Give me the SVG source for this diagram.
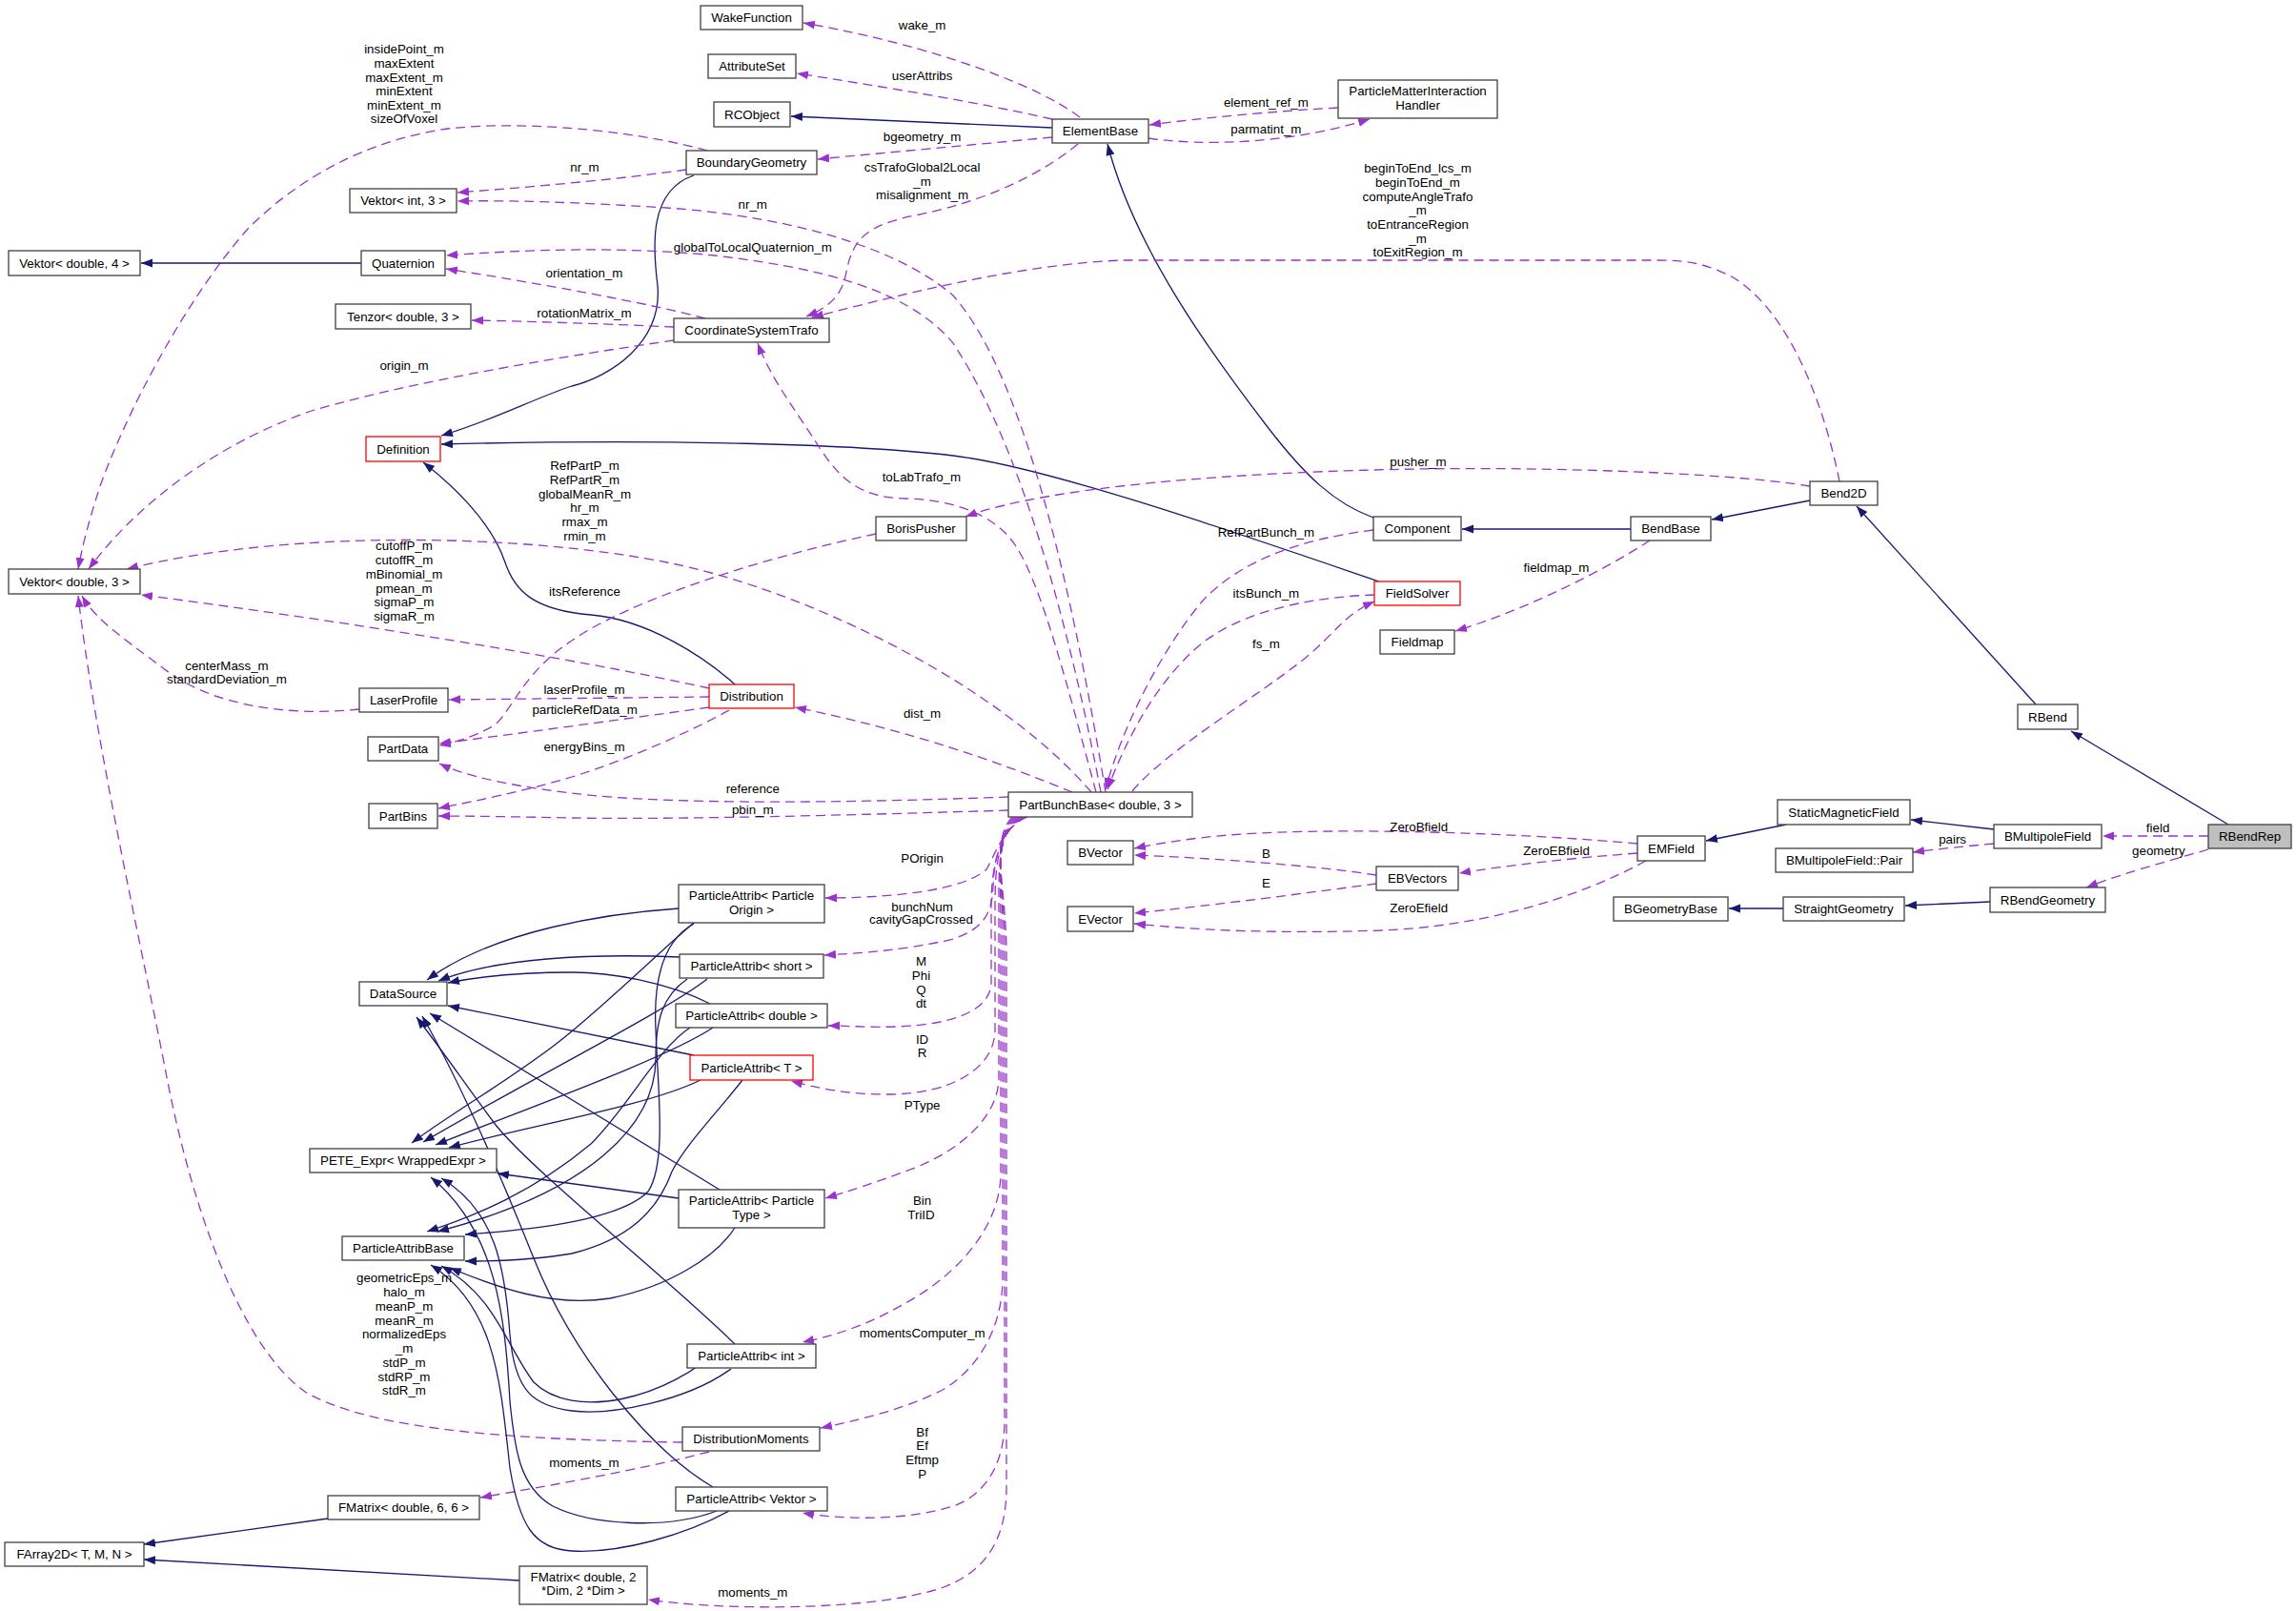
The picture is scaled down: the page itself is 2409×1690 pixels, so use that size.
<svg xmlns="http://www.w3.org/2000/svg" width="2409" height="1690" viewBox="0 0 2409 1690">
<style>
.n rect{fill:#fff;stroke:#404040;stroke-width:1.3}
.r rect{stroke:#ff0000}
.g rect{fill:#bfbfbf}
text{font-family:"Liberation Sans",Arial,Helvetica,sans-serif;font-size:13.33px;fill:#000;text-anchor:middle}
.i{fill:none;stroke:#191970;stroke-width:1.3;marker-end:url(#ab)}
.u{fill:none;stroke:#9a32cd;stroke-width:1.3;stroke-dasharray:10,6;marker-end:url(#ap)}
</style>
<defs>
<marker id="ab" markerUnits="userSpaceOnUse" markerWidth="13" markerHeight="10" refX="12" refY="5" orient="auto"><path d="M0,0.5 L12,5 L0,9.5 z" fill="#191970"/></marker>
<marker id="ap" markerUnits="userSpaceOnUse" markerWidth="13" markerHeight="10" refX="12" refY="5" orient="auto"><path d="M0,0.5 L12,5 L0,9.5 z" fill="#9a32cd"/></marker>
</defs>
<rect width="2409" height="1690" fill="#fff"/>
<g id="connectors">
<path class="u" d="M1133,123 C1090,90 980,48 843,24"/>
<path class="u" d="M1104,125 C1020,106 920,90 836,77"/>
<path class="i" d="M1104,134 L830,122"/>
<path class="u" d="M1104,144 C1020,152 930,160 858,167"/>
<path class="u" d="M1205,145 C1260,153 1350,152 1437,125"/>
<path class="u" d="M1404,113 C1330,117 1260,124 1206,131"/>
<path class="u" d="M1131,151 C1090,185 1030,212 960,226 C910,236 895,250 888,285 C884,310 870,322 846,332"/>
<path class="u" d="M720,178 C650,188 560,196 480,202"/>
<path class="u" d="M742,158 C680,140 560,125 470,135 C380,148 310,190 260,240 C190,320 130,440 105,510 C92,550 86,575 82,597"/>
<path class="i" d="M728,184 C680,200 685,260 690,300 C695,360 640,395 600,405 C560,418 520,440 463,457"/>
<path class="u" d="M740,334 C680,318 570,298 468,282"/>
<path class="u" d="M707,343 C640,340 560,337 495,336"/>
<path class="u" d="M707,357 C610,371 440,398 330,430 C240,460 150,520 93,597"/>
<path class="i" d="M1447,610 C1300,560 1100,490 1000,478 C900,466 700,460 463,466"/>
<path class="i" d="M771,718 C740,690 680,650 620,645 C560,640 540,620 530,590 C515,545 470,505 444,485"/>
<path class="i" d="M1441,543 C1400,528 1370,500 1330,448 C1270,370 1190,260 1162,151"/>
<path class="u" d="M1930,505 C1915,430 1880,330 1820,292 C1790,276 1770,273 1740,273 L1180,273 C1080,276 960,305 852,333"/>
<path class="u" d="M1899,510 C1800,494 1600,490 1488,492 C1300,495 1100,510 1013,542"/>
<path class="i" d="M1899,525 L1796,545"/>
<path class="i" d="M1711,555 L1534,555"/>
<path class="u" d="M1731,567 C1680,600 1600,640 1527,662"/>
<path class="i" d="M2136,739 L1948,531"/>
<path class="i" d="M2338,865 L2173,767"/>
<path class="u" d="M2317,877 L2206,877"/>
<path class="u" d="M2317,891 C2280,902 2230,915 2189,931"/>
<path class="i" d="M2092,870 L2005,860"/>
<path class="u" d="M2092,885 C2060,888 2030,891 2007,894"/>
<path class="i" d="M1874,865 L1790,882"/>
<path class="i" d="M2088,946 L1999,950"/>
<path class="i" d="M1871,953 L1814,953"/>
<path class="u" d="M1718,885 C1620,876 1450,868 1320,874 C1260,877 1220,884 1190,890"/>
<path class="u" d="M1718,895 C1650,900 1580,908 1531,916"/>
<path class="u" d="M1727,903 C1650,945 1550,972 1450,976 C1330,980 1250,975 1190,969"/>
<path class="u" d="M1444,918 C1380,908 1270,900 1190,897"/>
<path class="u" d="M1444,927 C1370,937 1270,950 1190,958"/>
<path class="u" d="M1442,624 C1380,626 1300,640 1255,680 C1210,720 1180,780 1162,828"/>
<path class="u" d="M1188,830 C1220,790 1320,730 1370,690 C1400,665 1410,645 1442,631"/>
<path class="u" d="M1441,556 C1360,566 1300,590 1262,630 C1220,680 1178,760 1160,828"/>
<path class="u" d="M1125,831 C1050,800 950,765 834,742"/>
<path class="u" d="M1150,831 C1120,720 1090,600 1060,565 C1040,540 1000,524 950,523 C900,522 880,500 860,470 C835,430 810,400 795,360"/>
<path class="u" d="M1155,831 C1130,700 1080,480 1000,360 C950,300 850,280 750,268 C650,258 550,262 468,268"/>
<path class="u" d="M1160,831 C1130,650 1080,400 1000,310 C930,250 800,225 700,218 C600,212 540,210 480,211"/>
<path class="u" d="M1145,831 C1050,720 850,620 700,590 C550,560 300,555 133,597"/>
<path class="u" d="M744,722 C600,690 350,650 148,624"/>
<path class="u" d="M377,744 C300,752 220,740 170,700 C130,670 100,650 86,625"/>
<path class="u" d="M744,731 L471,734"/>
<path class="u" d="M744,742 C650,755 540,770 461,780"/>
<path class="u" d="M765,745 C720,770 650,800 600,815 C550,830 500,840 460,848"/>
<path class="u" d="M919,560 C800,585 660,630 600,672 C550,705 540,740 520,760 C500,772 480,778 461,782"/>
<path class="u" d="M1058,836 C900,842 700,845 600,832 C540,825 490,815 461,801"/>
<path class="u" d="M1058,850 C900,855 700,860 600,858 C550,857 500,856 460,856"/>
<path class="u" d="M716,1513 C500,1510 380,1495 320,1460 C250,1410 200,1260 175,1130 C150,1000 100,780 82,625"/>
<path class="u" d="M744,1523 C680,1540 580,1558 504,1571"/>
<path class="u" d="M1078,857 C1052,868 1045,895 1035,912 C1010,935 930,942 866,942"/>
<path class="u" d="M1076,857 C1050,870 1043,900 1042,930 C1041,960 1030,975 1000,985 C950,997 900,1000 865,1002"/>
<path class="u" d="M1074,857 C1050,872 1040,905 1040,950 L1040,1030 C1040,1060 1000,1075 940,1077 C910,1078 890,1076 869,1076"/>
<path class="u" d="M1072,857 C1048,874 1044,905 1044,950 L1044,1080 C1044,1120 1000,1148 930,1148 C890,1148 860,1142 830,1134"/>
<path class="u" d="M1070,857 C1046,876 1048,910 1048,960 L1048,1130 C1048,1170 1010,1205 960,1225 C920,1240 890,1250 866,1257"/>
<path class="u" d="M1068,857 C1044,878 1050,915 1050,970 L1050,1230 C1050,1290 1000,1340 950,1367 C910,1390 880,1400 842,1408"/>
<path class="u" d="M1066,857 C1042,880 1052,920 1052,980 L1052,1340 C1052,1400 1020,1440 989,1458 C950,1478 900,1490 861,1498"/>
<path class="u" d="M1064,857 C1040,882 1054,925 1054,990 L1054,1490 C1054,1540 1030,1570 1000,1580 C950,1596 880,1594 842,1587"/>
<path class="u" d="M1062,857 C1038,884 1056,930 1056,1000 L1056,1560 C1056,1620 1030,1650 990,1665 C920,1690 760,1690 680,1678"/>
<path class="i" d="M379,276 L148,276"/>
<path class="i" d="M344,1593 L151,1620"/>
<path class="i" d="M545,1658 L151,1636"/>
<path class="i" d="M712,953 C640,958 520,975 448,1028"/>
<path class="i" d="M713,1004 C620,1000 520,1005 460,1029"/>
<path class="i" d="M745,1053 C700,1030 640,1020 600,1020 C540,1020 500,1025 470,1031"/>
<path class="i" d="M728,1107 L470,1055"/>
<path class="i" d="M755,1248 L451,1063"/>
<path class="i" d="M771,1410 C700,1340 560,1230 520,1180 C490,1140 470,1110 437,1067"/>
<path class="i" d="M748,1560 C680,1520 600,1420 560,1320 C520,1220 480,1130 443,1066"/>
<path class="i" d="M728,968 C690,1000 640,1050 590,1090 C540,1130 470,1170 432,1199"/>
<path class="i" d="M742,1027 C700,1060 560,1130 444,1198"/>
<path class="i" d="M748,1078 C700,1110 560,1160 457,1201"/>
<path class="i" d="M712,1257 L522,1231"/>
<path class="i" d="M735,1133 C680,1160 560,1180 471,1204"/>
<path class="i" d="M767,1436 C720,1470 640,1485 600,1480 C560,1475 540,1460 535,1400 C530,1330 520,1270 463,1236"/>
<path class="i" d="M752,1585 C700,1605 620,1600 580,1580 C545,1560 540,1520 535,1470 C530,1380 520,1290 452,1235"/>
<path class="i" d="M728,969 C690,990 686,1040 688,1080 C690,1140 700,1220 680,1250 C650,1280 560,1290 488,1295"/>
<path class="i" d="M721,1027 C695,1045 688,1070 688,1110 C688,1180 620,1250 459,1292"/>
<path class="i" d="M724,1078 C690,1100 660,1160 620,1200 C560,1250 500,1275 448,1292"/>
<path class="i" d="M779,1133 C750,1170 720,1200 705,1229 C690,1270 660,1300 600,1315 C560,1322 520,1323 488,1323"/>
<path class="i" d="M771,1288 C750,1320 700,1350 640,1362 C580,1372 520,1350 472,1330"/>
<path class="i" d="M760,1410 C700,1470 600,1490 560,1450 C530,1410 520,1360 463,1328"/>
<path class="i" d="M765,1585 C720,1610 650,1630 600,1627 C560,1625 545,1600 535,1540 C525,1450 520,1370 452,1327"/>
<g id="edge-labels">
<text x="967.6" y="31.2">wake_m</text>
<text x="967.6" y="83.9">userAttribs</text>
<text x="967.6" y="148.3">bgeometry_m</text>
<text x="1328.4" y="112.3">element_ref_m</text>
<text x="1328.4" y="140.3">parmatint_m</text>
<text x="424" y="56.3">insidePoint_m</text>
<text x="424" y="70.9">maxExtent</text>
<text x="424" y="85.5">maxExtent_m</text>
<text x="424" y="100.1">minExtent</text>
<text x="424" y="114.7">minExtent_m</text>
<text x="424" y="129.3">sizeOfVoxel</text>
<text x="613.5" y="180.3">nr_m</text>
<text x="967.6" y="180.3">csTrafoGlobal2Local</text>
<text x="967.6" y="195.2">_m</text>
<text x="967.6" y="209.4">misalignment_m</text>
<text x="1487.5" y="181.4">beginToEnd_lcs_m</text>
<text x="1487.5" y="196.3">beginToEnd_m</text>
<text x="1487.5" y="211.2">computeAngleTrafo</text>
<text x="1487.5" y="225.4">_m</text>
<text x="1487.5" y="240.3">toEntranceRegion</text>
<text x="1487.5" y="255.2">_m</text>
<text x="1487.5" y="269.3">toExitRegion_m</text>
<text x="789.8" y="219.2">nr_m</text>
<text x="789.8" y="264.3">globalToLocalQuaternion_m</text>
<text x="613" y="291.2">orientation_m</text>
<text x="613" y="333.3">rotationMatrix_m</text>
<text x="424" y="387.5">origin_m</text>
<text x="613.5" y="492.9">RefPartP_m</text>
<text x="613.5" y="507.7">RefPartR_m</text>
<text x="613.5" y="522.5">globalMeanR_m</text>
<text x="613.5" y="537.3">hr_m</text>
<text x="613.5" y="552.1">rmax_m</text>
<text x="613.5" y="566.9">rmin_m</text>
<text x="966.9" y="505.3">toLabTrafo_m</text>
<text x="1487.9" y="489.3">pusher_m</text>
<text x="1328.4" y="562.7">RefPartBunch_m</text>
<text x="424" y="577.4">cutoffP_m</text>
<text x="424" y="592.1">cutoffR_m</text>
<text x="424" y="606.8">mBinomial_m</text>
<text x="424" y="621.5">pmean_m</text>
<text x="424" y="636.2">sigmaP_m</text>
<text x="424" y="650.9">sigmaR_m</text>
<text x="613.4" y="625.4">itsReference</text>
<text x="1633" y="600.3">fieldmap_m</text>
<text x="1328.4" y="627.2">itsBunch_m</text>
<text x="1328.4" y="680.3">fs_m</text>
<text x="238" y="703.2">centerMass_m</text>
<text x="238" y="717.4">standardDeviation_m</text>
<text x="613" y="728.3">laserProfile_m</text>
<text x="613.6" y="749.4">particleRefData_m</text>
<text x="967.6" y="753.4">dist_m</text>
<text x="613" y="788.3">energyBins_m</text>
<text x="789.8" y="832.2">reference</text>
<text x="789.8" y="853.7">pbin_m</text>
<text x="2264.1" y="873">field</text>
<text x="1488.7" y="872.2">ZeroBfield</text>
<text x="2048.6" y="884.6">pairs</text>
<text x="2264.9" y="896.6">geometry</text>
<text x="1633" y="896.6">ZeroEBfield</text>
<text x="1328.4" y="899.9">B</text>
<text x="967.6" y="905.3">POrigin</text>
<text x="1328.4" y="930.7">E</text>
<text x="967.6" y="955.5">bunchNum</text>
<text x="966.5" y="968.9">cavityGapCrossed</text>
<text x="1488.7" y="957.3">ZeroEfield</text>
<text x="966.5" y="1013.3">M</text>
<text x="966.5" y="1028.2">Phi</text>
<text x="966.5" y="1043.1">Q</text>
<text x="966.5" y="1057.3">dt</text>
<text x="967.6" y="1095.1">ID</text>
<text x="967.6" y="1108.9">R</text>
<text x="967.6" y="1164.3">PType</text>
<text x="967.6" y="1264.3">Bin</text>
<text x="966.5" y="1279.2">TriID</text>
<text x="424" y="1345.4">geometricEps_m</text>
<text x="424" y="1360.2">halo_m</text>
<text x="424" y="1374.9">meanP_m</text>
<text x="424" y="1389.7">meanR_m</text>
<text x="424" y="1404.4">normalizedEps</text>
<text x="424" y="1419.2">_m</text>
<text x="424" y="1433.9">stdP_m</text>
<text x="424" y="1448.7">stdRP_m</text>
<text x="424" y="1463.4">stdR_m</text>
<text x="967.6" y="1403.2">momentsComputer_m</text>
<text x="967.6" y="1507.1">Bf</text>
<text x="967.6" y="1520.9">Ef</text>
<text x="967.6" y="1536.2">Eftmp</text>
<text x="967.6" y="1550.7">P</text>
<text x="613" y="1539.1">moments_m</text>
<text x="789.8" y="1675.4">moments_m</text>
</g>
</g>
<g id="nodes">
<g id="WakeFunction" class="n"><rect x="735" y="6" width="107" height="25"/><text x="788.5" y="23.2">WakeFunction</text></g>
<g id="AttributeSet" class="n"><rect x="743" y="57" width="92" height="25"/><text x="789" y="74.2">AttributeSet</text></g>
<g id="RCObject" class="n"><rect x="749" y="107" width="80" height="26"/><text x="789" y="124.7">RCObject</text></g>
<g id="ElementBase" class="n"><rect x="1104" y="125" width="101" height="25"/><text x="1154.5" y="142.2">ElementBase</text></g>
<g id="ParticleMatterInteractionHandler" class="n"><rect x="1404" y="84" width="167" height="40"/><text x="1487.5" y="100.3">ParticleMatterInteraction</text><text x="1487.5" y="114.8">Handler</text></g>
<g id="BoundaryGeometry" class="n"><rect x="720" y="158" width="137" height="25"/><text x="788.5" y="175.2">BoundaryGeometry</text></g>
<g id="VektorInt3" class="n"><rect x="367" y="198" width="112" height="25"/><text x="423" y="215.2">Vektor&lt; int, 3 &gt;</text></g>
<g id="VektorDouble4" class="n"><rect x="9" y="263" width="138" height="26"/><text x="78" y="280.7">Vektor&lt; double, 4 &gt;</text></g>
<g id="Quaternion" class="n"><rect x="379" y="263" width="88" height="26"/><text x="423" y="280.7">Quaternion</text></g>
<g id="TenzorDouble3" class="n"><rect x="352" y="319" width="142" height="26"/><text x="423" y="336.7">Tenzor&lt; double, 3 &gt;</text></g>
<g id="CoordinateSystemTrafo" class="n"><rect x="707" y="334" width="163" height="25"/><text x="788.5" y="351.2">CoordinateSystemTrafo</text></g>
<g id="Definition" class="n r"><rect x="384" y="458" width="78" height="26"/><text x="423" y="475.7">Definition</text></g>
<g id="BorisPusher" class="n"><rect x="919" y="542" width="95" height="25"/><text x="966.5" y="559.2">BorisPusher</text></g>
<g id="Component" class="n"><rect x="1441" y="542" width="92" height="25"/><text x="1487" y="559.2">Component</text></g>
<g id="BendBase" class="n"><rect x="1711" y="542" width="84" height="25"/><text x="1753" y="559.2">BendBase</text></g>
<g id="Bend2D" class="n"><rect x="1899" y="505" width="71" height="25"/><text x="1934.5" y="522.2">Bend2D</text></g>
<g id="VektorDouble3" class="n"><rect x="9" y="597" width="138" height="26"/><text x="78" y="614.7">Vektor&lt; double, 3 &gt;</text></g>
<g id="FieldSolver" class="n r"><rect x="1442" y="610" width="90" height="25"/><text x="1487" y="627.2">FieldSolver</text></g>
<g id="Fieldmap" class="n"><rect x="1448" y="661" width="78" height="25"/><text x="1487" y="678.2">Fieldmap</text></g>
<g id="Distribution" class="n r"><rect x="744" y="718" width="89" height="25"/><text x="788.5" y="735.2">Distribution</text></g>
<g id="LaserProfile" class="n"><rect x="377" y="722" width="93" height="25"/><text x="423.5" y="739.2">LaserProfile</text></g>
<g id="PartData" class="n"><rect x="386" y="773" width="74" height="25"/><text x="423" y="790.2">PartData</text></g>
<g id="RBend" class="n"><rect x="2117" y="739" width="63" height="26"/><text x="2148.5" y="756.7">RBend</text></g>
<g id="PartBunchBase" class="n"><rect x="1058" y="831" width="193" height="26"/><text x="1154.5" y="848.7">PartBunchBase&lt; double, 3 &gt;</text></g>
<g id="PartBins" class="n"><rect x="387" y="843" width="72" height="26"/><text x="423" y="860.7">PartBins</text></g>
<g id="StaticMagneticField" class="n"><rect x="1865" y="839" width="139" height="26"/><text x="1934.5" y="856.7">StaticMagneticField</text></g>
<g id="BMultipoleField" class="n"><rect x="2092" y="865" width="113" height="25"/><text x="2148.5" y="882.2">BMultipoleField</text></g>
<g id="RBendRep" class="n g"><rect x="2317" y="865" width="87" height="25"/><text x="2360.5" y="882.2">RBendRep</text></g>
<g id="EMField" class="n"><rect x="1718" y="877" width="71" height="26"/><text x="1753.5" y="894.7">EMField</text></g>
<g id="BVector" class="n"><rect x="1120" y="882" width="69" height="25"/><text x="1154.5" y="899.2">BVector</text></g>
<g id="BMultipoleFieldPair" class="n"><rect x="1863" y="890" width="144" height="25"/><text x="1935" y="907.2">BMultipoleField::Pair</text></g>
<g id="EBVectors" class="n"><rect x="1444" y="909" width="86" height="25"/><text x="1487" y="926.2">EBVectors</text></g>
<g id="RBendGeometry" class="n"><rect x="2088" y="931" width="121" height="26"/><text x="2148.5" y="948.7">RBendGeometry</text></g>
<g id="BGeometryBase" class="n"><rect x="1693" y="941" width="120" height="25"/><text x="1753" y="958.2">BGeometryBase</text></g>
<g id="StraightGeometry" class="n"><rect x="1871" y="941" width="127" height="25"/><text x="1934.5" y="958.2">StraightGeometry</text></g>
<g id="EVector" class="n"><rect x="1120" y="951" width="69" height="26"/><text x="1154.5" y="968.7">EVector</text></g>
<g id="PA_ParticleOrigin" class="n"><rect x="712" y="928" width="153" height="40"/><text x="788.5" y="943.8">ParticleAttrib&lt; Particle</text><text x="788.5" y="959">Origin &gt;</text></g>
<g id="PA_short" class="n"><rect x="713" y="1001" width="151" height="25"/><text x="788.5" y="1018.2">ParticleAttrib&lt; short &gt;</text></g>
<g id="DataSource" class="n"><rect x="377" y="1030" width="92" height="25"/><text x="423" y="1047.2">DataSource</text></g>
<g id="PA_double" class="n"><rect x="709" y="1053" width="159" height="25"/><text x="788.5" y="1070.2">ParticleAttrib&lt; double &gt;</text></g>
<g id="PA_T" class="n r"><rect x="724" y="1107" width="129" height="26"/><text x="788.5" y="1124.7">ParticleAttrib&lt; T &gt;</text></g>
<g id="PETE_Expr" class="n"><rect x="325" y="1205" width="196" height="25"/><text x="423" y="1222.2">PETE_Expr&lt; WrappedExpr &gt;</text></g>
<g id="PA_ParticleType" class="n"><rect x="712" y="1248" width="153" height="40"/><text x="788.5" y="1264.3">ParticleAttrib&lt; Particle</text><text x="788.5" y="1279.2">Type &gt;</text></g>
<g id="ParticleAttribBase" class="n"><rect x="359" y="1297" width="128" height="25"/><text x="423" y="1314.2">ParticleAttribBase</text></g>
<g id="PA_int" class="n"><rect x="721" y="1410" width="135" height="25"/><text x="788.5" y="1427.2">ParticleAttrib&lt; int &gt;</text></g>
<g id="DistributionMoments" class="n"><rect x="716" y="1497" width="144" height="25"/><text x="788" y="1514.2">DistributionMoments</text></g>
<g id="PA_Vektor" class="n"><rect x="709" y="1560" width="159" height="25"/><text x="788.5" y="1577.2">ParticleAttrib&lt; Vektor &gt;</text></g>
<g id="FMatrix66" class="n"><rect x="344" y="1569" width="159" height="25"/><text x="423.5" y="1586.2">FMatrix&lt; double, 6, 6 &gt;</text></g>
<g id="FArray2D" class="n"><rect x="5" y="1618" width="146" height="25"/><text x="78" y="1635.2">FArray2D&lt; T, M, N &gt;</text></g>
<g id="FMatrix2Dim" class="n"><rect x="545" y="1643" width="134" height="40"/><text x="612" y="1659">FMatrix&lt; double, 2</text><text x="612" y="1673">*Dim, 2 *Dim &gt;</text></g>
</g>
</svg>
